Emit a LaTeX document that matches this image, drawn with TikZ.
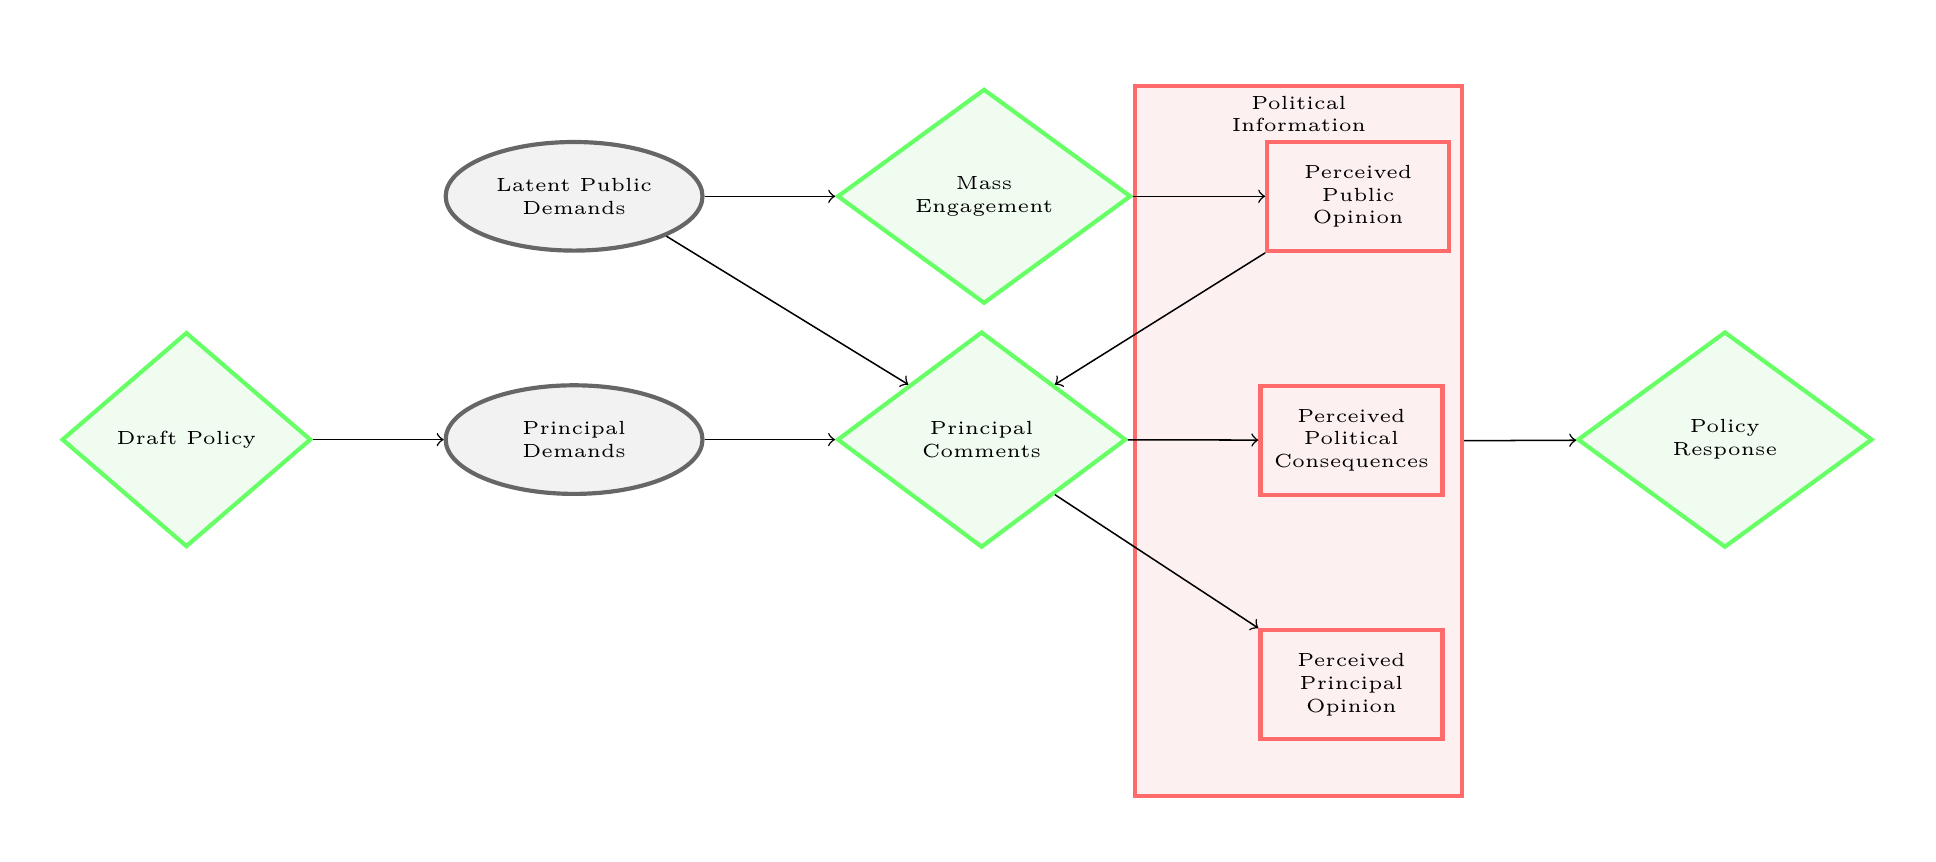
\documentclass[tikz,border=0pt]{standalone}
\usetikzlibrary{shapes.geometric}
\newcommand\pu{0.2632pt}
\definecolor{gbord}{HTML}{66FF66}
\definecolor{gfill}{HTML}{F1FCF1}
\definecolor{ebord}{HTML}{666666}
\definecolor{efill}{HTML}{F2F2F2}
\definecolor{rbord}{HTML}{FF6A6A}
\definecolor{rfill}{HTML}{FDF0F0}
\tikzset{
  dia/.style={diamond, draw=gbord, fill=gfill, line width=1.1pt, inner sep=0pt, aspect=1, align=center, font=\tiny},
  ell/.style={ellipse, draw=ebord, fill=efill, line width=1.1pt, inner sep=0pt, align=center, font=\tiny,
    minimum width=256.8*\pu, minimum height=108.6*\pu},
  rbox/.style={rectangle, draw=rbord, fill=rfill, line width=1.1pt, inner sep=0pt, align=center, font=\tiny,
    minimum width=182*\pu, minimum height=109*\pu},
  conn/.style={->, line width=0.4pt}
}
\begin{document}
\begin{tikzpicture}[x=0.2632pt, y=-0.2632pt]
\useasboundingbox (0,0) rectangle (1936,862);
% group box
\node[rectangle, draw=rbord, fill=rfill, line width=1.1pt, inner sep=0pt,
  minimum width=327.2*\pu, minimum height=710*\pu] (polinfo) at (1298.3,441.4) {};
\node[align=center, font=\tiny, inner sep=0pt] (pilabel) at (1298.9,114) {Political\\Information};

\node[dia, minimum width=249.4*\pu, minimum height=214.8*\pu] (draft) at (186.4,439.6) {Draft Policy};
\node[ell] (latent) at (574.1,196.3) {Latent Public\\Demands};
\node[ell] (pdem) at (574.1,439.6) {Principal\\Demands};
\node[dia, minimum width=293.8*\pu, minimum height=214.8*\pu] (mass) at (984.1,196.3) {Mass\\Engagement};
\node[dia, minimum width=289*\pu, minimum height=216*\pu] (pcom) at (981.6,439.6) {Principal\\Comments};
\node[rbox] (ppo) at (1358.2,196.3) {Perceived\\Public\\Opinion};
\node[rbox] (ppc) at (1351.4,440.2) {Perceived\\Political\\Consequences};
\node[rbox] (pprin) at (1351.4,684.7) {Perceived\\Principal\\Opinion};
\node[dia, minimum width=295*\pu, minimum height=216*\pu] (resp) at (1724.9,439.6) {Policy\\Response};

\draw[conn] (draft) -- (pdem);
\draw[conn] (pdem) -- (pcom);
\draw[conn] (latent) -- (mass);
\draw[conn] (latent.south east) -- (pcom.north west);
\draw[conn] (mass) -- (ppo);
\draw[conn] (ppo.south west) -- (pcom.north east);
\draw[conn] (pcom) -- (ppc);
\draw[conn] (pcom.south east) -- (pprin.north west);
\draw[conn] (polinfo) -- (resp);
\end{tikzpicture}
\end{document}
